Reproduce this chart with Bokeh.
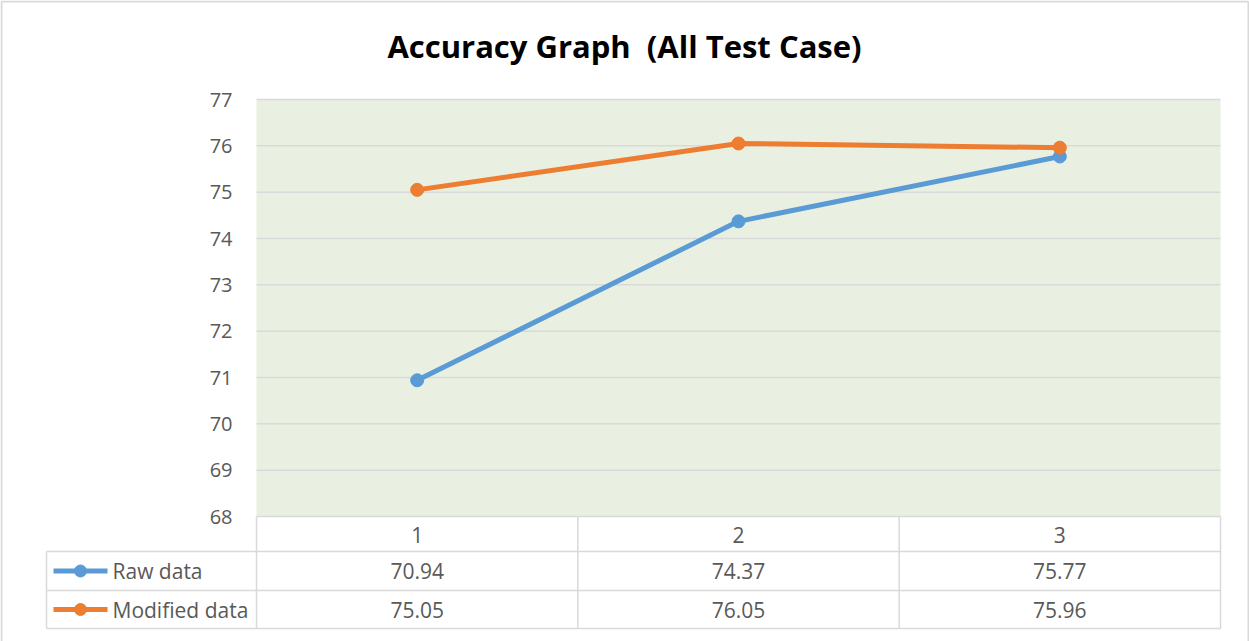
from bokeh.plotting import figure
from bokeh.models import Range1d
from bokeh.core.properties import value
from bokeh.embed import file_html
from bokeh.resources import INLINE

# ---------------- data ----------------
title_text = "Accuracy Graph \u00a0(All Test Case)"
categories = [1, 2, 3]
series_names = ["Raw data", "Modified data"]
raw_data = [70.94, 74.37, 75.77]
modified_data = [75.05, 76.05, 75.96]
y_ticks = [68, 69, 70, 71, 72, 73, 74, 75, 76, 77]
series_colors = ["#5b9bd5", "#ed7d31"]

# ---------------- layout (page pixels) ----------------
W, H = 1249, 641
M = 0
PL, PR, PT, PB = 256, 1220, 99, 516      # plot area
ROW1, ROW2, ROW3 = 551, 590, 628         # table row lines
TL = 46                                  # table left edge
FONT = value("Open Sans")
TXT = "#595959"
GRID = "#d9d9d9"

YMIN, YMAX = y_ticks[0], y_ticks[-1]
XMIN, XMAX = categories[0] - 0.5, categories[-1] + 0.5
sx = (PR - PL) / (XMAX - XMIN)
sy = (PB - PT) / (YMAX - YMIN)
x0 = XMIN - (PL - M) / sx
x1 = XMAX + (M + W - PR) / sx
y1 = YMAX + (PT - M) / sy
y0 = YMIN - (M + H - PB) / sy

p = figure(width=W, height=H, x_range=Range1d(x0, x1), y_range=Range1d(y0, y1),
           output_backend="svg", toolbar_location=None, min_border=0,
           x_axis_location=None, y_axis_location=None, outline_line_color=None,
           background_fill_color="white", border_fill_color="white")
p.xgrid.visible = False
p.ygrid.visible = False
p.extra_x_ranges = {"px": Range1d(M, M + W)}
p.extra_y_ranges = {"px": Range1d(M + H, M)}

# outer chart border
p.segment(x0=[1, 1, 1248], x1=[1248, 1, 1248], y0=[1, 1, 1], y1=[1, H, H],
          x_range_name="px", y_range_name="px", line_color=GRID, line_width=2)

# plot background
p.quad(left=[XMIN], right=[XMAX], bottom=[YMIN], top=[YMAX],
       fill_color="#e9f0e2", line_color=None)

# gridlines
p.segment(x0=[XMIN] * len(y_ticks), x1=[XMAX] * len(y_ticks), y0=y_ticks, y1=y_ticks,
          line_color=GRID, line_width=1.5)

# y tick labels
lab_x = XMIN - (PL - 232) / sx
p.text(x=[lab_x] * len(y_ticks), y=y_ticks, text=[str(t) for t in y_ticks],
       text_align="right", text_baseline="middle", text_font=FONT,
       text_font_size="20px", text_color=TXT)

# series
for vals, c in zip([raw_data, modified_data], series_colors):
    p.line(categories, vals, line_color=c, line_width=5)
    p.scatter(categories, vals, size=13, fill_color=c, line_color=c)

# title
p.text(x=[624], y=[45], text=[title_text], x_range_name="px", y_range_name="px",
       text_align="center", text_baseline="middle", text_font=FONT, text_font_style="bold",
       text_font_size="31px", text_color="black")

# table grid
p.segment(x0=[TL] * 3, x1=[PR] * 3, y0=[ROW1, ROW2, ROW3], y1=[ROW1, ROW2, ROW3],
          x_range_name="px", y_range_name="px", line_color=GRID, line_width=1.5)
col_edges = [XMIN + i for i in range(len(categories) + 1)]
p.segment(x0=col_edges, x1=col_edges, y0=[PB] * len(col_edges), y1=[ROW3] * len(col_edges),
          y_range_name="px", line_color=GRID, line_width=1.5)
p.segment(x0=[TL], x1=[TL], y0=[ROW1], y1=[ROW3], x_range_name="px", y_range_name="px",
          line_color=GRID, line_width=1.5)

# header
p.text(x=categories, y=[(PB + ROW1) / 2 + 1] * len(categories), text=[str(c) for c in categories],
       y_range_name="px", text_align="center", text_baseline="middle", text_font=FONT,
       text_font_size="21px", text_color=TXT)

# rows
row_y = [(ROW1 + ROW2) / 2, (ROW2 + ROW3) / 2]
for vals, name, c, ry in zip([raw_data, modified_data], series_names, series_colors, row_y):
    p.text(x=categories, y=[ry] * len(categories), text=[f"{v:.2f}" for v in vals],
           y_range_name="px", text_align="center", text_baseline="middle", text_font=FONT,
           text_font_size="21px", text_color=TXT)
    p.segment(x0=[53], x1=[107], y0=[ry], y1=[ry], x_range_name="px", y_range_name="px",
              line_color=c, line_width=5)
    p.scatter(x=[80], y=[ry], x_range_name="px", y_range_name="px", size=12,
              fill_color=c, line_color=c)
    p.text(x=[112], y=[ry], text=[name], x_range_name="px", y_range_name="px",
           text_align="left", text_baseline="middle", text_font=FONT,
           text_font_size="21px", text_color=TXT)

open("out.html", "w").write(file_html(p, INLINE))
